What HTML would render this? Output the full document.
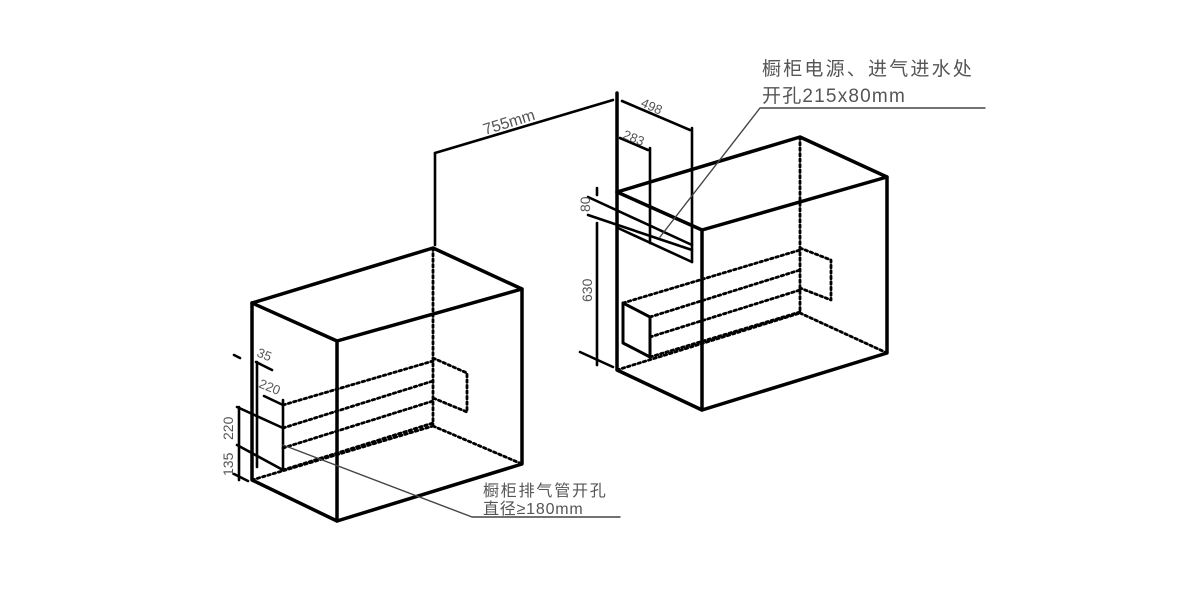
<!DOCTYPE html>
<html><head><meta charset="utf-8"><style>
html,body{margin:0;padding:0;background:#fff;}
svg{display:block;}
text{font-family:"Liberation Sans","Noto Sans CJK SC",sans-serif;fill:#555;}
</style></head><body>
<svg width="1200" height="600" viewBox="0 0 1200 600" xmlns="http://www.w3.org/2000/svg">
<g stroke="#000" fill="none" stroke-linecap="round" stroke-linejoin="round">
<!-- LEFT BOX solid -->
<g stroke-width="3.5">
<polyline points="252,303 337,341 522,289"/>
<polyline points="252,303 433,248 522,289 522,464 337,521 252,480 252,303"/>
<line x1="337" y1="341" x2="337" y2="521"/>
</g>
<!-- left box hidden -->
<g stroke-width="2.8" stroke-dasharray="2.5,3">
<line x1="433" y1="248" x2="433" y2="426"/>
<line x1="252" y1="480" x2="433" y2="426"/>
<line x1="433" y1="426" x2="522" y2="464"/>
<line x1="283" y1="405" x2="433" y2="361"/>
<line x1="283" y1="428" x2="433" y2="381"/>
<line x1="283" y1="448" x2="433" y2="401"/>
<line x1="283" y1="470" x2="433" y2="423"/>
<polyline points="433,358 467,373 467,412 433,398"/>
</g>
<!-- left dims -->
<g stroke-width="2.6">
<line x1="257" y1="362" x2="257" y2="467"/>
<line x1="283" y1="400" x2="283" y2="470"/>
<line x1="264" y1="396" x2="283" y2="405"/>
<line x1="237" y1="407" x2="283" y2="428"/>
<line x1="237" y1="445" x2="283" y2="470"/>
<line x1="239" y1="407" x2="239" y2="480"/>
<line x1="234" y1="474" x2="248" y2="481"/>
<line x1="234" y1="355" x2="240" y2="358"/>
<line x1="256" y1="362" x2="272" y2="370"/>
</g>
<polyline stroke="#444" stroke-width="1.4" points="283,445 472,517 620,517"/>
<!-- RIGHT BOX solid -->
<g stroke-width="3.5">
<polyline points="617,192 800,137 887,177 887,353 702,410 617,370 617,93"/>
<polyline points="617,192 702,230 887,177"/>
<line x1="702" y1="230" x2="702" y2="410"/>
</g>
<g stroke-width="2.8" stroke-dasharray="2.5,3">
<line x1="800" y1="137" x2="800" y2="313"/>
<line x1="617" y1="370" x2="800" y2="313"/>
<line x1="800" y1="313" x2="887" y2="353"/>
<line x1="623" y1="303" x2="800" y2="250"/>
<line x1="650" y1="317" x2="800" y2="270"/>
<line x1="650" y1="337" x2="800" y2="290"/>
<line x1="650" y1="357" x2="800" y2="312"/>
<polyline points="800,248 831,260 831,300 800,288"/>
</g>
<g stroke-width="3">
<polygon points="623,303 650,317 650,357 623,343"/>
</g>
<!-- right dims -->
<g stroke-width="2.6">
<line x1="435" y1="153" x2="435" y2="245"/>
<line x1="435" y1="153" x2="613" y2="100"/>
<line x1="622" y1="101" x2="690" y2="130"/>
<line x1="692" y1="128" x2="692" y2="262"/>
<line x1="620" y1="138" x2="648" y2="150"/>
<line x1="650" y1="148" x2="650" y2="243"/>
<line x1="588" y1="197" x2="692" y2="245"/>
<line x1="588" y1="215" x2="692" y2="250"/>
<line x1="618" y1="228" x2="692" y2="262"/>
<line x1="597" y1="188" x2="597" y2="195"/>
<line x1="597" y1="223" x2="597" y2="365"/>
<line x1="580" y1="352" x2="613" y2="367"/>
</g>
<polyline stroke="#444" stroke-width="1.4" points="660,237 760,108 985,108"/>
</g>
<!-- text -->
<text x="762" y="75" font-size="19" letter-spacing="2.2">橱柜电源、进气进水处</text>
<text x="762" y="102" font-size="19" letter-spacing="1.2">开孔215x80mm</text>
<text x="483" y="496" font-size="16" letter-spacing="1.8">橱柜排气管开孔</text>
<text x="483" y="514" font-size="16" letter-spacing="0.8">直径≥180mm</text>
<text font-size="16" transform="translate(485,135) rotate(-17)">755mm</text>
<text font-size="13" transform="translate(640,106) rotate(24)">498</text>
<text font-size="13" transform="translate(622,138) rotate(22)">283</text>
<text font-size="14" transform="translate(590,212) rotate(-90)">80</text>
<text font-size="14" transform="translate(592,302) rotate(-90)">630</text>
<text font-size="13" transform="translate(256,356) rotate(22)">35</text>
<text font-size="13" transform="translate(258,387) rotate(22)">220</text>
<text font-size="14" transform="translate(233,440) rotate(-90)">220</text>
<text font-size="14" transform="translate(233,476) rotate(-90)">135</text>
</svg>
</body></html>
